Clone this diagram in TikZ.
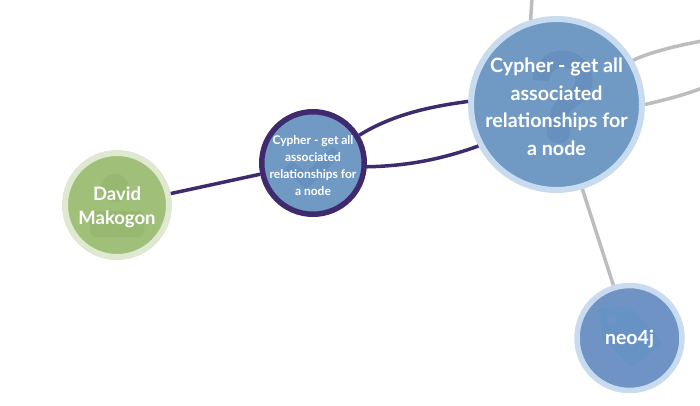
\documentclass[tikz,border=0pt]{standalone}
\usepackage{fontspec}
\setmainfont{Lato}
\definecolor{bluefill}{HTML}{7099C4}
\definecolor{bluering}{HTML}{C9DCEF}
\definecolor{qicon}{HTML}{6790BE}
\definecolor{tagfill}{HTML}{6F93C5}
\definecolor{tagicon}{HTML}{6693C3}
\definecolor{greenfill}{HTML}{A0BF78}
\definecolor{greenring}{HTML}{DFE8D0}
\definecolor{greenicon}{HTML}{97B871}
\definecolor{purple2}{HTML}{3F2A6E}
\definecolor{edgegray}{HTML}{BDBDBD}
\tikzset{
  item/.style={circle,draw,inner sep=0pt},
  itemtext/.style={inner sep=0pt,text=white,align=center},
  greyedge/.style={draw=edgegray,line width=3.5pt},
  purpleedge/.style={draw=purple2,line width=3.5pt}
}
\begin{document}
\begin{tikzpicture}[x=1pt,y=-1pt]
\useasboundingbox (0,0) rectangle (700,406);
\coordinate (topend) at (532,-2);
\coordinate (rightA) at (702,41);
\coordinate (rightB) at (702,88);
% circles
\node[item,minimum size=171pt,line width=6pt,fill=bluefill,draw=bluering] (big) at (556.5,104.5) {};
\node[item,minimum size=102.5pt,line width=5.5pt,fill=bluefill,draw=purple2] (small) at (313,163) {};
\node[item,minimum size=104pt,line width=6pt,fill=greenfill,draw=greenring] (david) at (117,205) {};
\node[item,minimum size=105pt,line width=5.5pt,fill=tagfill,draw=bluering] (neo) at (629.5,338) {};
% icons
\begin{scope}[shift={(556.5,104.5)}]
  \draw[qicon,line width=17pt] (-15.5,-24) arc[start angle=180,end angle=360,radius=21.5] .. controls (27.5,-4) and (2,-6) .. (2,14);
  \fill[qicon] (2,27) circle[radius=12];
\end{scope}
\begin{scope}[shift={(313,163)}]
  \draw[qicon,line width=12pt] (-25,2) -- (-7,18) -- (24,-12);
\end{scope}
\begin{scope}[shift={(117,205)}]
  \fill[greenicon] (-2,-17) circle[radius=14];
  \fill[greenicon,rounded corners=5pt] (-27,6) rectangle (27,32);
\end{scope}
\begin{scope}[shift={(629.5,338)}]
  \fill[tagicon,rounded corners=2pt] (-29.5,-30) -- (0.5,-31) -- (33.5,4) -- (2.5,30) -- (-27.5,0) -- cycle;
  \fill[tagfill] (-17.5,-18) circle[radius=5.5];
\end{scope}
% text
\node[itemtext,font=\bfseries\fontsize{19.7}{27.5}\selectfont] (bigtext) at (556.5,107) {Cypher - get all\\associated\\relationships for\\a node};
\node[itemtext,font=\bfseries\fontsize{12}{17}\selectfont] (smalltext) at (313,165.5) {Cypher - get all\\associated\\relationships for\\a node};
\node[itemtext,font=\bfseries\fontsize{18.5}{24}\selectfont] (davidtext) at (117,207.5) {David\\Makogon};
\node[itemtext,font=\bfseries\fontsize{19.5}{24}\selectfont] (neotext) at (629.5,339.5) {neo4j};
% connectors
\draw[greyedge] (big.107) -- (topend);
\draw[greyedge] (big.-73) -- (neo.107);
\draw[greyedge] (big.30) .. controls (650,52) and (680,45) .. (rightA);
\draw[greyedge] (big.0) .. controls (660,101) and (685,95) .. (rightB);
\draw[purpleedge] (david.12) -- (small.192);
\draw[purpleedge] (small.31) .. controls (395,113) and (435,106) .. (big.178);
\draw[purpleedge] (small.-4) .. controls (410,166) and (445,158) .. (big.208);
\end{tikzpicture}
\end{document}
